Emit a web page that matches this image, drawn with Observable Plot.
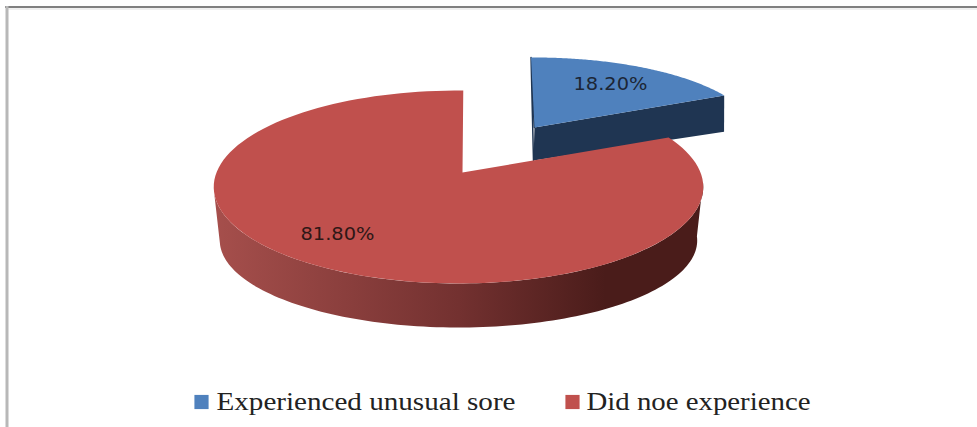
<!DOCTYPE html>
<html>
<head>
<meta charset="utf-8">
<script src="https://cdn.jsdelivr.net/npm/d3@7"></script>
<script src="https://cdn.jsdelivr.net/npm/@observablehq/plot@0.6"></script>
<style>
  html, body { margin: 0; padding: 0; background: #fff; }
  svg { display: block; }
</style>
</head>
<body>
<div id="chart"></div>
<script>
// Survey shares
const categories = ["Experienced unusual sore", "Did noe experience"];
const shares = [18.2, 81.8];
const shareLabels = ["18.20%", "81.80%"];
const colors = ["#4f81bd", "#c0504d"];

const W = 977, H = 427;

// Perspective discs: a unit circle (u, v) maps to
// x = cx + R*u/(1+k*v), y = cy - S*v/(1+k*v)
const blueTop = {cx: 534, cy: 127, R: 221, S: 78.4, k: 0.12, turn: -1};
const blueBottom = {cx: 533, cy: 160, R: 222, S: 70, k: 0.12, turn: -1};
const redTop = {cx: 458, cy: 172, R: 242, S: 94.3, k: 0.15, turn: 1.3};
const redBottom = {cx: 458, cy: 227, R: 236, S: 85, k: 0.15, turn: 1.3};
const redApexX = 462;

const arcs = d3.pie().sort(null).value(d => d)(shares);

function rimPoint(disc, angle) {
  const a = angle + disc.turn * Math.PI / 180;
  const u = Math.sin(a), v = Math.cos(a), w = 1 + disc.k * v;
  return {x: disc.cx + disc.R * u / w, y: disc.cy - disc.S * v / w};
}
function rim(disc, a0, a1, n = 120) {
  return d3.range(n + 1).map(i => rimPoint(disc, a0 + (a1 - a0) * i / n));
}

const [blueArc, redArc] = arcs;

const blueFace = [{x: blueTop.cx, y: blueTop.cy}, ...rim(blueTop, blueArc.startAngle, blueArc.endAngle)];
const blueCut = [
  {x: blueTop.cx, y: blueTop.cy},
  rimPoint(blueTop, blueArc.endAngle),
  rimPoint(blueBottom, blueArc.endAngle),
  {x: blueBottom.cx, y: blueBottom.cy}
];
const blueEdge = [
  {x: blueTop.cx, y: blueTop.cy},
  rimPoint(blueTop, blueArc.startAngle),
  {x: blueBottom.cx, y: blueBottom.cy}
];
const redFace = [{x: redApexX, y: redTop.cy}, ...rim(redTop, redArc.startAngle, redArc.endAngle)];

// The side wall of the red slice runs between the widest points of the disc
const wallFrom = Math.PI * 0.525, wallTo = Math.PI * 1.435;
const redWall = [...rim(redTop, wallFrom, wallTo), ...rim(redBottom, wallFrom, wallTo).reverse()];

const valueLabels = [
  {text: shareLabels[0], x: 610, y: 84, fill: "#1c2635"},
  {text: shareLabels[1], x: 337, y: 234, fill: "#2e1716"}
];

const legendY = 401.5;
const legend = [
  {name: categories[0], color: colors[0], swatch: 201, text: 216, width: 299},
  {name: categories[1], color: colors[1], swatch: 572, text: 586, width: 224}
];

// Shading that runs round the wall, lit on the left and dark on the right
const wallGradient = () => {
  const defs = d3.create("svg:defs");
  const grad = defs.append("linearGradient").attr("id", "wallShade");
  [[0, "#a64f4c"], [0.5, "#733130"], [0.8, "#4a1c1a"], [1, "#4a1c1a"]].forEach(([o, c]) =>
    grad.append("stop").attr("offset", o).attr("stop-color", c));
  return defs.node();
};

const polygon = (pts, fill) => Plot.line(pts, {x: "x", y: "y", fill, stroke: "none", curve: "linear"});

const chart = Plot.plot({
  width: W,
  height: H,
  margin: 0,
  x: {domain: [0, W], range: [0, W], axis: null},
  y: {domain: [0, H], range: [0, H], axis: null},
  style: {background: "#fff"},
  marks: [
    wallGradient,
    // frame lines
    Plot.ruleY([6.5], {x1: 5, x2: W, stroke: "#808080", strokeWidth: 2}),
    Plot.ruleY([8.5], {x1: 8, x2: W, stroke: "#f0f0f0", strokeWidth: 2}),
    Plot.ruleX([6.5], {y1: 6, y2: H, stroke: "#b8b8b8", strokeWidth: 3}),
    // blue slice
    polygon(blueCut, "#1f3552"),
    Plot.line(blueEdge, {x: "x", y: "y", stroke: "#1f3552", strokeWidth: 1.5}),
    polygon(blueFace, colors[0]),
    // red slice
    polygon(redWall, "url(#wallShade)"),
    polygon(redFace, colors[1]),
    // value labels
    Plot.text(valueLabels, {x: "x", y: "y", text: "text", fill: "fill",
      fontFamily: "DejaVu Sans", fontSize: 18, className: "value-text"}),
    // legend
    Plot.dot(legend, {x: "swatch", y: () => legendY, symbol: "square", r: 8, fill: "color", stroke: "none"}),
    Plot.text(legend, {x: "text", y: () => legendY, text: "name", textAnchor: "start",
      fontFamily: "Liberation Serif", fontSize: 25, fill: "#222", className: "legend-text"})
  ]
});

// Text runs are set to a fixed length
d3.select(chart).selectAll(".legend-text text")
  .attr("textLength", (d, i) => legend[i].width)
  .attr("lengthAdjust", "spacingAndGlyphs");
d3.select(chart).selectAll(".value-text text")
  .attr("textLength", 74)
  .attr("lengthAdjust", "spacingAndGlyphs");

document.getElementById("chart").append(chart);
</script>
</body>
</html>
